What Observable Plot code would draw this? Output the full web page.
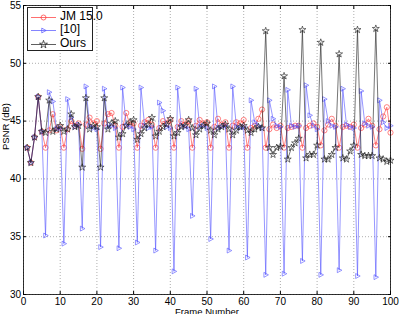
<!DOCTYPE html>
<html>
<head>
<meta charset="utf-8">
<script src="https://cdn.jsdelivr.net/npm/d3@7"></script>
<script src="https://cdn.jsdelivr.net/npm/@observablehq/plot@0.6"></script>
<style>
  html, body { margin: 0; padding: 0; background: #fff; overflow: hidden; }
  #wrap { position: relative; width: 399px; height: 314px; font-family: "Liberation Sans", Arial, sans-serif; }
  #legend { position: absolute; left: 27px; top: 7px; width: 66px; height: 44px; border: 1px solid #222; background: #fff; box-sizing: border-box; }
  #legend .row { position: absolute; left: 0; height: 13px; width: 120px; }
  #legend svg { position: absolute; left: 3px; top: 0; }
  #legend span { position: absolute; left: 32px; top: -1px; font-size: 12px; line-height: 13px; color: #000; white-space: nowrap; }
</style>
</head>
<body>
<div id="wrap"><div id="legend"></div></div>
<script>
// ---- data ----
const frames = d3.range(1, 101);
const seriesNames = ["JM 15.0", "[10]", "Ours"];
const xTicks = [0, 10, 20, 30, 40, 50, 60, 70, 80, 90, 100];
const yTicks = [30, 35, 40, 45, 50, 55];
const xLabel = "Frame Number";
const yLabel = "PSNR (dB)";

const jm = [
  42.7, 41.4, 43.6, 47.1, 44.1,
  42.7, 44.2, 45.6, 44.2, 44.5,
  42.7, 44.3, 45.0, 44.6, 44.8,
  42.6, 44.7, 45.3, 44.8, 45.0,
  42.6, 44.8, 45.6, 45.7, 44.6,
  42.7, 44.5, 45.7, 44.7, 44.8,
  42.7, 44.6, 44.9, 45.1, 44.7,
  42.7, 44.4, 45.0, 44.8, 45.1,
  42.7, 44.5, 45.0, 44.7, 45.0,
  42.7, 44.6, 45.1, 44.8, 44.9,
  42.7, 44.5, 45.2, 44.7, 44.9,
  42.7, 44.6, 44.9, 44.8, 45.1,
  42.7, 44.4, 44.6, 45.2, 46.0,
  42.7, 44.3, 44.7, 44.4, 44.6,
  42.7, 44.4, 44.5, 44.6, 44.6,
  42.7, 44.4, 44.6, 44.8, 44.5,
  42.9, 44.2, 44.7, 45.2, 44.6,
  42.7, 44.5, 44.6, 44.5, 44.7,
  42.7, 44.4, 44.7, 45.2, 44.6,
  42.9, 44.3, 45.4, 46.2, 44.0
];
const ref10 = [
  42.7, 41.4, 43.6, 47.1, 44.1,
  35.1, 47.5, 46.7, 44.3, 44.4,
  34.4, 46.9, 45.3, 44.5, 44.7,
  35.7, 48.0, 44.6, 44.4, 44.3,
  34.1, 47.8, 44.5, 44.6, 44.4,
  34.0, 47.9, 44.6, 44.5, 44.3,
  34.5, 47.9, 44.6, 44.4, 44.5,
  33.8, 46.6, 45.9, 44.5, 44.4,
  32.0, 47.9, 44.6, 44.5, 44.3,
  36.8, 47.8, 44.5, 44.6, 44.4,
  34.8, 48.0, 44.4, 44.5, 44.6,
  33.8, 48.0, 44.5, 44.4, 44.5,
  33.2, 46.8, 44.9, 44.6, 44.4,
  31.7, 46.8, 45.2, 44.6, 44.5,
  31.8, 47.7, 44.6, 44.5, 44.6,
  32.9, 48.1, 45.5, 44.6, 44.3,
  31.7, 46.9, 45.0, 44.6, 44.5,
  32.1, 47.8, 44.7, 44.5, 44.4,
  31.6, 47.6, 44.8, 44.6, 44.5,
  31.5, 46.8, 44.9, 44.4, 44.6
];
const ours = [
  42.7, 41.4, 43.6, 47.1, 44.1,
  44.0, 46.8, 44.1, 44.3, 44.6,
  44.1, 44.3, 45.6, 44.5, 44.6,
  41.0, 47.0, 44.3, 44.6, 44.5,
  41.0, 47.0, 44.3, 44.8, 45.0,
  43.6, 43.9, 44.6, 44.9, 45.1,
  43.4, 43.9, 44.4, 44.7, 45.3,
  43.7, 44.1, 44.5, 44.7, 45.2,
  43.7, 44.0, 44.5, 44.6, 45.1,
  44.4, 43.8, 44.3, 44.6, 44.8,
  44.2, 43.8, 44.3, 44.5, 44.7,
  44.3, 43.8, 44.2, 44.5, 44.6,
  44.2, 44.0, 44.3, 44.5, 44.4,
  52.8, 42.7, 42.1, 42.7, 42.8,
  48.9, 41.7, 42.7, 43.1, 43.5,
  52.9, 41.8, 42.1, 42.1, 42.9,
  51.8, 41.7, 41.7, 42.1, 42.7,
  50.8, 41.8, 41.7, 42.4, 42.9,
  52.9, 42.1, 42.0, 42.0, 42.0,
  53.0, 41.8, 41.7, 41.5, 41.6
];

// ---- build tables ----
const rows = (vals, name) => frames.map((f, i) => ({frame: f, psnr: vals[i], series: name}));
const dJM = rows(jm, seriesNames[0]);
const dRef = rows(ref10, seriesNames[1]);
const dOurs = rows(ours, seriesNames[2]);

const triRight = {
  draw(context, size) {
    const r = Math.sqrt(size / Math.PI);
    context.moveTo(r * 1.05, 0);
    context.lineTo(-r * 0.7, -r * 0.95);
    context.lineTo(-r * 0.7, r * 0.95);
    context.closePath();
  }
};

const colors = {jm: "#ff3030", ref: "#5050ff", ours: "#1a1a1a"};
const blank = () => "";

const chart = Plot.plot({
  width: 399,
  height: 314,
  marginLeft: 23,
  marginRight: 9,
  marginTop: 5,
  marginBottom: 20,
  style: {fontFamily: "'Liberation Sans', Arial, sans-serif", fontSize: "10px", background: "#fff", overflow: "visible"},
  x: {domain: [0, 100]},
  y: {domain: [30, 55]},
  marks: [
    Plot.gridX(xTicks, {stroke: "#999", strokeOpacity: 1, strokeDasharray: "1,2", strokeWidth: 0.8}),
    Plot.gridY(yTicks, {stroke: "#999", strokeOpacity: 1, strokeDasharray: "1,2", strokeWidth: 0.8}),
    Plot.line(dJM, {x: "frame", y: "psnr", stroke: colors.jm, strokeWidth: 0.6}),
    Plot.dot(dJM, {x: "frame", y: "psnr", stroke: colors.jm, fill: "none", r: 2.6, strokeWidth: 0.6, symbol: "circle"}),
    Plot.line(dRef, {x: "frame", y: "psnr", stroke: colors.ref, strokeWidth: 0.6}),
    Plot.dot(dRef, {x: "frame", y: "psnr", stroke: colors.ref, fill: "none", r: 2.6, strokeWidth: 0.6, symbol: triRight}),
    Plot.line(dOurs, {x: "frame", y: "psnr", stroke: colors.ours, strokeWidth: 0.6}),
    Plot.dot(dOurs, {x: "frame", y: "psnr", stroke: colors.ours, fill: "none", r: 2.2, strokeWidth: 0.6, symbol: "star"}),
    Plot.frame({stroke: "#000", strokeWidth: 0.8}),
    Plot.axisX(xTicks, {anchor: "bottom", tickSize: -3, tickPadding: 6, label: null, fontSize: 10}),
    Plot.axisX(xTicks, {anchor: "top", tickSize: -3, tickFormat: blank, label: null}),
    Plot.axisY(yTicks, {anchor: "left", tickSize: -3, tickPadding: 5.5, label: null, fontSize: 10}),
    Plot.axisY(yTicks, {anchor: "right", tickSize: -3, tickFormat: blank, label: null}),
    Plot.text([xLabel], {frameAnchor: "bottom", dy: 14, lineAnchor: "top", text: d => d, fontSize: 9.5, fill: "#000"}),
    Plot.text([yLabel], {frameAnchor: "left", dx: -18, rotate: -90, text: d => d, fontSize: 9.5, fill: "#000"})
  ]
});
document.getElementById("wrap").prepend(chart);

// ---- legend (HTML overlay) ----
const legend = d3.select("#legend");
const legendItems = [
  {name: seriesNames[0], color: colors.jm, sym: d3.symbolCircle},
  {name: seriesNames[1], color: colors.ref, sym: triRight},
  {name: seriesNames[2], color: colors.ours, sym: d3.symbolStar}
];
legendItems.forEach((it, i) => {
  const row = legend.append("div").attr("class", "row").style("top", (3 + i * 13.3) + "px");
  const svg = row.append("svg").attr("width", 26).attr("height", 13);
  svg.append("line").attr("x1", 0).attr("x2", 25).attr("y1", 6.5).attr("y2", 6.5)
    .attr("stroke", it.color).attr("stroke-width", 0.7);
  svg.append("path").attr("transform", "translate(12.5,6.5)")
    .attr("d", d3.symbol(it.sym, Math.PI * 2.5 * 2.5)())
    .attr("fill", "none").attr("stroke", it.color).attr("stroke-width", 0.7);
  row.append("span").text(it.name);
});
</script>
</body>
</html>
